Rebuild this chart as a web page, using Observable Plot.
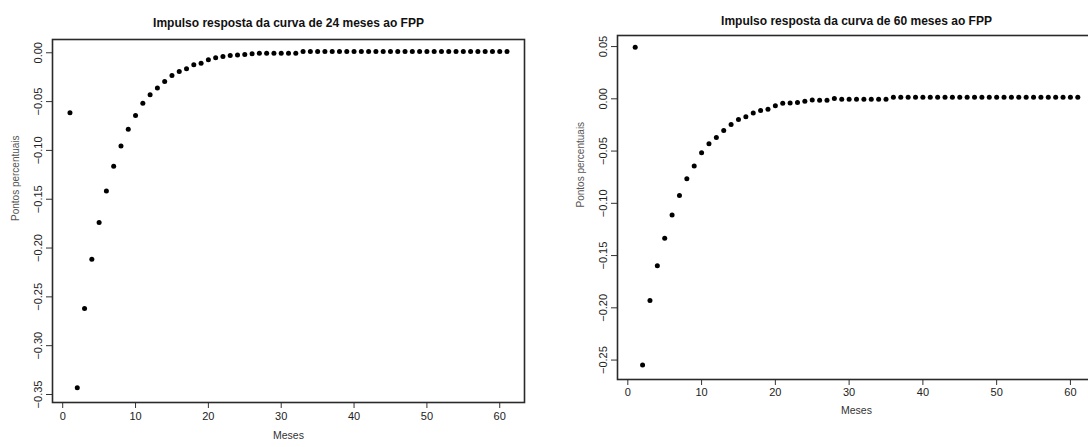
<!DOCTYPE html>
<html>
<head>
<meta charset="utf-8">
<script src="https://cdn.jsdelivr.net/npm/d3@7"></script>
<script src="https://cdn.jsdelivr.net/npm/@observablehq/plot@0.6"></script>
<style>
  html, body { margin: 0; padding: 0; background: #fff; }
  #wrap { position: relative; width: 1088px; height: 447px; overflow: hidden; }
  #wrap > svg { position: absolute; top: 0; }
</style>
</head>
<body>
<div id="wrap"></div>
<script>
// Impulse responses of the 24- and 60-month yields to the FPP shock (percentage points)
const meses = d3.range(1, 62);

const resp24 = [
  -0.0615, -0.3430, -0.2620, -0.2116, -0.1738, -0.1415, -0.1162, -0.0954, -0.0783, -0.0643,
  -0.0516, -0.0431, -0.0360, -0.0294, -0.0233, -0.0193, -0.0164, -0.0123, -0.0108, -0.0072,
  -0.0052, -0.0038, -0.0028, -0.0024, -0.0017, -0.0011, -0.0005, -0.0004, -0.0005, -0.0005,
  -0.0005, -0.0006, 0.0013, 0.0013, 0.0013, 0.0013, 0.0013, 0.0013, 0.0013, 0.0013,
  0.0013, 0.0013, 0.0013, 0.0013, 0.0013, 0.0013, 0.0013, 0.0013, 0.0013, 0.0013,
  0.0013, 0.0013, 0.0013, 0.0013, 0.0013, 0.0013, 0.0013, 0.0013, 0.0013, 0.0013,
  0.0013
];

const resp60 = [
  0.0494, -0.2548, -0.1929, -0.1597, -0.1335, -0.1111, -0.0926, -0.0766, -0.0642, -0.0517,
  -0.0431, -0.0371, -0.0303, -0.0245, -0.0198, -0.0172, -0.0136, -0.0112, -0.0100, -0.0067,
  -0.0042, -0.0039, -0.0035, -0.0023, -0.0011, -0.0013, -0.0013, 0.0002, -0.0003, -0.0003,
  -0.0003, -0.0003, -0.0003, -0.0003, -0.0003, 0.0015, 0.0015, 0.0015, 0.0015, 0.0015,
  0.0015, 0.0015, 0.0015, 0.0015, 0.0015, 0.0015, 0.0015, 0.0015, 0.0015, 0.0015,
  0.0015, 0.0015, 0.0015, 0.0015, 0.0015, 0.0015, 0.0015, 0.0015, 0.0015, 0.0015,
  0.0015
];

const xTicks = [0, 10, 20, 30, 40, 50, 60];
const yTicks24 = [0, -0.05, -0.10, -0.15, -0.20, -0.25, -0.30, -0.35];
const yTicks60 = [0.05, 0, -0.05, -0.10, -0.15, -0.20, -0.25];

const title24 = "Impulso resposta da curva de 24 meses ao FPP";
const title60 = "Impulso resposta da curva de 60 meses ao FPP";
const xLabel = "Meses";
const yLabel = "Pontos percentuais";

const font = "'Liberation Sans', Arial, Helvetica, sans-serif";

function panel({values, yDomain, yTicks, title, left, width, margins, titleDy, tickDy, xLabelDy}) {
  const data = meses.map((m, i) => ({mes: m, valor: values[i]}));
  const svg = Plot.plot({
    width,
    height: 447,
    ...margins,
    style: {fontFamily: font, fontSize: "11px", color: "#222", background: "transparent"},
    x: {domain: [-1.4, 63.4]},
    y: {domain: yDomain},
    marks: [
      Plot.axisX({ticks: xTicks, tickSize: 6, tickPadding: tickDy, label: null, stroke: "#333", fill: "#222"}),
      Plot.axisY({ticks: yTicks, tickSize: 6, tickPadding: 5, tickRotate: -90, tickFormat: d3.format(".2f"), label: null, stroke: "#333", fill: "#222"}),
      Plot.frame({stroke: "#2a2a2a", strokeWidth: 1.6}),
      Plot.dot(data, {x: "mes", y: "valor", r: 2.5, fill: "#000", stroke: null}),
      Plot.text([title], {frameAnchor: "top", dy: titleDy, fontWeight: "bold", fontSize: 12, fill: "#111"}),
      Plot.text([xLabel], {frameAnchor: "bottom", dy: xLabelDy, fontSize: 10.5, fill: "#333"}),
      Plot.text([yLabel], {frameAnchor: "left", dx: -37, rotate: -90, fontSize: 10, fill: "#555"})
    ]
  });
  svg.style.left = left + "px";
  document.getElementById("wrap").appendChild(svg);
}

panel({
  values: resp24,
  yDomain: [-0.3582, 0.0136],
  yTicks: yTicks24,
  title: title24,
  left: 0,
  width: 545,
  margins: {marginLeft: 52, marginRight: 21, marginTop: 39, marginBottom: 45},
  titleDy: -21,
  tickDy: 4,
  xLabelDy: 36
});

panel({
  values: resp60,
  yDomain: [-0.2686, 0.0606],
  yTicks: yTicks60,
  title: title60,
  left: 545,
  width: 600,
  margins: {marginLeft: 72, marginRight: 50, marginTop: 35, marginBottom: 68},
  titleDy: -19,
  tickDy: 3,
  xLabelDy: 34
});
</script>
</body>
</html>
